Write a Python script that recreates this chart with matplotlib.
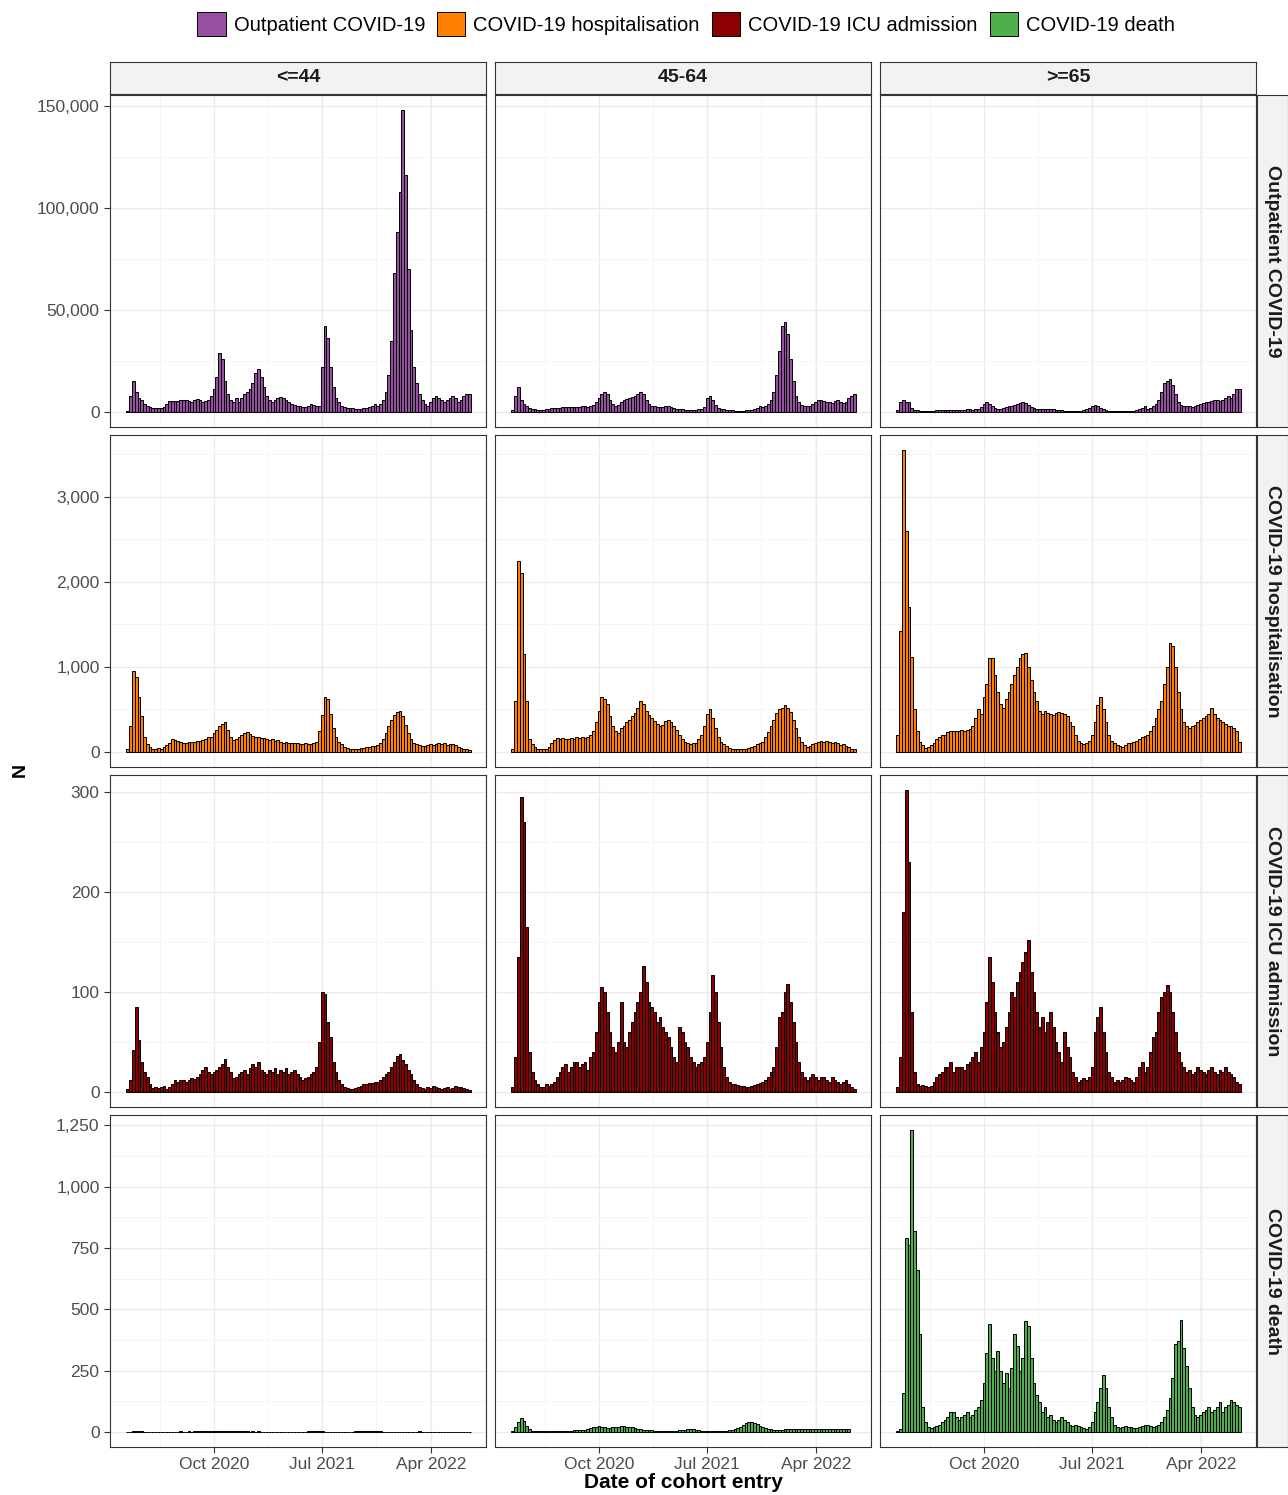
import matplotlib
matplotlib.use("Agg")
import matplotlib.pyplot as plt
import matplotlib.dates as mdates
from matplotlib.patches import Patch
from matplotlib.ticker import FuncFormatter, MultipleLocator, AutoMinorLocator
import numpy as np
import datetime as dt

plt.rcParams['font.family'] = ['Liberation Sans', 'DejaVu Sans']

age_groups = ['<=44', '45-64', '>=65']
outcomes = ['Outpatient COVID-19', 'COVID-19 hospitalisation',
            'COVID-19 ICU admission', 'COVID-19 death']
colors = ['#984EA3', '#FF7F00', '#8B0000', '#4DAF4A']
start_date = dt.date(2020, 2, 27)

# weekly counts; outpatient in thousands
out_44 = [0.5,8,15,10,7,6,4,3,2.5,2, 2,1.8,2,2.5,4,5.5,5.5,5.5,5.5,6,
          6,6,5.5,5,6,6.5,6,5,5.5,6, 8,11,17,29,26,15,9,6,5,7,
          5,7,9,10,11,14,19,21,17,12, 8,6,5,6,7,7.5,7,6,5,4,
          3.5,3,3,2.5,2.5,3,4,3.5,3,3, 22,42,36,22,12,7,5,3,2.5,2,
          2,1.8,1.5,1.5,1.5,2,2,2.5,3,4, 3,4,6,10,18,35,68,88,108,148,
          116,70,40,22,14,9,6,4,3,5, 7,8,7,6,5,6,7,8,7,5, 6,8,9,9]
out_45 = [1,8,12,6,4,3,2,1.5,1.2,1, 1,1,1.2,1.5,2,2,2,2,2.2,2.4,
          2.5,2.3,2.2,2.4,2.6,2.8,2.7,2.5,2.8,3.5, 5,7,9,10,9,6,4,3,3.5,5,
          6,6.5,7,7.5,8,9,10,9,6,4, 3,2.8,2.5,2.5,2.6,2.7,2.8,2.5,2,1.6,
          1.4,1.2,1.1,1,1,1,1,1.2,1.5,2.5, 7,8,6,3.5,2,1.5,1.2,1,0.8,0.7,
          0.6,0.6,0.6,0.6,0.7,0.8,1,1.3,2,3, 2.5,3,4,6,10,18,30,42,44,38,
          26,15,8,5,3.5,3,2.8,3,4,5, 6,6,5.5,5,5,4.5,5.5,6,5,4.5, 5,7,8,9]
out_65 = [1,5,6,5,5,2,1,0.7,0.5,0.5, 0.5,0.5,0.5,0.6,0.7,0.8,0.8,0.8,0.9,1,
          1,0.9,0.9,1,1.1,1.2,1.2,1.1,1.2,1.5, 2.5,4,5,4,3,2,1.5,1.5,2,2.5,
          3,3,3.5,4,4.5,5,4.5,3.5,2.5,1.8, 1.5,1.3,1.2,1.2,1.3,1.3,1.2,1,0.8,0.7,
          0.6,0.5,0.5,0.5,0.5,0.5,0.6,0.8,1.2,2, 3,3.5,3,2,1.2,0.8,0.6,0.5,0.4,0.4,
          0.4,0.4,0.4,0.4,0.5,0.6,0.8,1.2,2,3, 1.5,2,3,4,6,10,14,15,16,13,
          9,5,3.5,3,3,3,2.5,3,3.5,4, 4.5,5,5,5.5,6,6,5.5,6,7,8, 7,9,11,11]

hosp_44 = [30,300,950,880,640,420,180,90,60,40, 40,50,40,60,80,110,150,140,130,120,
           100,110,120,120,120,125,130,140,150,170, 180,220,260,300,330,350,260,180,140,150,
           170,200,220,230,210,190,180,170,160,160, 150,140,150,130,140,120,110,120,100,100,
           100,100,90,90,100,90,90,100,120,250, 430,640,620,450,280,170,120,90,60,50,
           40,40,35,40,45,50,55,60,65,70, 80,100,150,220,300,380,440,470,480,420,
           320,220,150,110,90,80,75,70,80,90, 80,90,100,90,100,80,90,90,80,60, 50,40,30,20]
hosp_45 = [30,600,2250,2100,1150,600,150,90,60,40, 40,40,40,60,100,140,160,150,160,150,
           150,160,150,170,160,170,160,170,200,250, 350,480,650,620,560,420,300,250,220,280,
           300,350,380,420,460,520,600,560,480,440, 400,360,330,300,320,360,380,350,300,260,
           200,150,120,100,90,100,110,150,200,300, 450,500,400,280,180,120,90,70,50,40,
           30,30,30,30,40,50,60,70,90,100, 120,170,230,300,380,460,500,520,550,520,
           470,380,280,180,120,80,60,70,90,110, 120,130,120,130,120,110,120,100,80,90, 70,60,40,30]
hosp_65 = [200,1420,3550,2600,1700,1120,500,250,120,80, 50,60,80,100,150,180,200,200,230,250,
           250,250,250,260,250,260,270,300,400,500, 450,650,800,1100,1110,900,700,560,520,620,
           700,800,900,1000,1100,1150,1160,1000,850,700, 600,480,450,480,460,450,440,460,470,460,
           450,420,350,300,200,130,100,90,100,130, 200,350,550,650,500,350,200,130,100,80,
           70,60,80,100,110,120,130,150,170,190, 200,250,300,400,500,600,800,1000,1280,1250,
           1000,700,500,350,300,280,300,320,350,380, 400,420,450,520,450,400,380,350,330,300,
           300,280,250,120]

icu_44 = [3,12,42,85,52,30,20,15,8,4, 5,4,5,6,3,5,8,12,10,12,
          12,10,12,14,13,15,18,22,25,20, 18,20,22,25,28,33,25,20,14,15,
          18,20,22,18,24,28,25,30,22,20, 18,22,20,24,18,22,20,24,18,20,
          22,18,15,12,14,15,18,20,25,50, 100,98,70,55,30,20,12,8,5,4,
          3,3,4,5,6,8,8,9,9,10, 10,12,15,18,20,25,30,36,38,32,
          28,22,18,12,8,5,4,3,5,4, 6,5,4,3,4,5,3,4,6,5, 5,4,3,2]
icu_45 = [5,35,135,295,270,165,40,20,12,8, 5,5,8,6,8,10,15,20,25,28,
          20,25,30,30,25,28,30,22,35,40, 60,90,105,100,80,60,45,40,50,90,
          50,45,60,70,80,90,100,126,110,90, 85,80,70,75,65,60,55,45,35,30,
          65,60,50,45,35,30,25,28,30,35, 50,80,117,100,70,45,25,15,10,8,
          8,7,6,6,5,5,6,7,8,9, 10,12,15,20,25,45,75,80,100,108,
          90,70,50,30,20,15,12,15,18,15, 12,15,15,12,10,15,12,10,8,10, 12,8,5,3]
icu_65 = [5,35,180,302,230,80,20,8,6,7, 6,5,6,10,15,18,20,25,25,30,
          20,25,25,25,22,28,30,35,40,30, 45,60,90,135,110,80,60,45,50,65,
          80,100,95,110,120,130,140,152,120,100, 80,65,75,60,70,80,65,50,40,30,
          60,45,35,20,15,10,12,14,12,15, 25,60,75,85,60,40,20,15,10,12,
          10,12,15,14,12,10,15,25,30,20, 25,40,55,60,80,95,100,107,100,80,
          60,40,30,25,20,22,18,20,25,22, 20,18,22,25,20,18,22,20,25,20, 18,15,10,8]

death_44 = [0,1,3,4,3,2,1,1,0,0, 0,0,1,0,1,1,1,1,1,2, 1,1,2,1,2,2,3,2,3,4,
            3,3,2,2,3,2,2,3,3,2, 2,3,2,2,1,2,1,2,1,1, 1,1,1,0,1,1,0,1,1,1,
            0,1,1,1,1,2,2,3,3,2, 2,1,1,1,1,0,1,1,1,1, 1,1,2,2,3,3,3,4,3,3,
            2,2,1,1,1,1,1,1,1,1, 1,1,1,1,1,2,1,1,1,1, 1,1,1,1,1,1,1,1,1,1, 1,1,1,1]
death_45 = [2,20,40,55,45,25,10,5,3,2, 2,2,2,2,3,3,4,4,5,5, 5,5,6,6,7,7,8,10,14,18,
            22,25,22,18,14,15,18,20,22,25, 24,22,20,18,14,12,10,8,7,6, 6,5,5,5,4,4,4,5,5,5,
            6,7,8,10,12,10,8,6,5,4, 4,3,3,3,3,3,4,5,6,8, 10,15,20,28,35,40,40,38,32,25,
            20,15,12,10,8,8,8,9,10,10, 10,11,12,11,12,12,10,11,12,13, 12,12,11,12,13,12,12,12,
            12,13,12,12]
death_65 = [2,10,160,790,760,1230,820,660,400,100, 40,20,15,20,25,30,40,50,60,80,
            80,60,50,60,70,80,60,70,90,100, 130,200,320,440,300,250,330,250,200,240,
            180,260,400,350,250,300,450,430,300,200, 150,120,80,100,60,70,50,40,50,60,
            50,40,30,25,30,25,20,15,10,20, 40,80,120,180,230,180,100,60,30,20,
            15,20,25,20,18,15,15,20,25,30, 30,25,20,25,30,40,60,90,140,220,
            360,370,455,340,270,180,100,70,60,70, 80,90,100,80,90,100,120,80,100,110,
            130,120,110,100]

data = [[out_44, out_45, out_65], [hosp_44, hosp_45, hosp_65],
        [icu_44, icu_45, icu_65], [death_44, death_45, death_65]]
scale = [1000, 1, 1, 1]
ymajor = [50000, 1000, 100, 250]

W, H = 1288, 1495
fig = plt.figure(figsize=(W / 100, H / 100), dpi=100)
lefts = [110, 495, 880]
tops = [95, 435, 775, 1115]
pw, ph = 376, 332

xlim = (mdates.date2num(dt.date(2020, 1, 13)), mdates.date2num(dt.date(2022, 8, 18)))
xticks = [dt.date(2020, 10, 1), dt.date(2021, 7, 1), dt.date(2022, 4, 1)]

for r in range(4):
    ymax = max(max(v) for v in data[r]) * scale[r]
    ylim = (-0.05 * ymax, ymax * 1.05)
    for c in range(3):
        ax = fig.add_axes([lefts[c] / W, 1 - (tops[r] + ph) / H, pw / W, ph / H])
        vals = np.array(data[r][c], dtype=float) * scale[r]
        dates = [start_date + dt.timedelta(days=7 * i) for i in range(len(vals))]
        ax.bar(dates, vals, width=7, color=colors[r], edgecolor='black', linewidth=0.7, zorder=3)
        ax.set_xlim(xlim)
        ax.set_ylim(ylim)
        ax.set_xticks([mdates.date2num(d) for d in xticks])
        ax.xaxis.set_minor_locator(AutoMinorLocator(2))
        ax.yaxis.set_major_locator(MultipleLocator(ymajor[r]))
        ax.yaxis.set_minor_locator(AutoMinorLocator(2))
        ax.grid(which='major', color='#ebebeb', linewidth=1.0, zorder=0)
        ax.grid(which='minor', color='#f4f4f4', linewidth=0.6, zorder=0)
        for s in ax.spines.values():
            s.set_color('#333333')
            s.set_linewidth(0.8)
        ax.tick_params(which='minor', length=0)
        ax.tick_params(which='major', length=4, color='#333333', labelsize=12.5, labelcolor='#4d4d4d')
        if r == 3:
            ax.set_xticklabels([d.strftime('%b %Y') for d in xticks])
        else:
            ax.set_xticklabels([])
            ax.tick_params(axis='x', which='major', length=0)
        if c == 0:
            ax.yaxis.set_major_formatter(FuncFormatter(lambda v, p: f'{v:,.0f}'))
        else:
            ax.set_yticklabels([])
            ax.tick_params(axis='y', which='major', length=0)

        if r == 0:
            sax = fig.add_axes([lefts[c] / W, 1 - 94 / H, pw / W, 32 / H])
            sax.set_facecolor('#f2f2f2')
            sax.set_xticks([]); sax.set_yticks([])
            for s in sax.spines.values():
                s.set_color('#333333'); s.set_linewidth(0.8)
            sax.text(0.5, 0.5, age_groups[c], ha='center', va='center',
                     fontsize=14, fontweight='bold', color='#1a1a1a')
        if c == 2:
            rax = fig.add_axes([(lefts[c] + pw + 1) / W, 1 - (tops[r] + ph) / H, 31 / W, ph / H])
            rax.set_facecolor('#f2f2f2')
            rax.set_xticks([]); rax.set_yticks([])
            for s in rax.spines.values():
                s.set_color('#333333'); s.set_linewidth(0.8)
            rax.text(0.5, 0.5, outcomes[r], ha='center', va='center', rotation=-90,
                     fontsize=14, fontweight='bold', color='#1a1a1a')

fig.text(20 / W, 1 - 770 / H, 'N', rotation=90, ha='center', va='center',
         fontsize=14, fontweight='bold')
fig.text(683 / W, 1 - 1483 / H, 'Date of cohort entry', ha='center', va='center',
         fontsize=15, fontweight='bold')

handles = [Patch(facecolor=col, edgecolor='black', linewidth=0.7) for col in colors]
fig.legend(handles, outcomes, loc='center', bbox_to_anchor=(686 / W, 1 - 24 / H),
           ncol=4, frameon=False, fontsize=14.5, handlelength=1.4, handleheight=1.4,
           handletextpad=0.4, columnspacing=0.6)

fig.savefig('out.png', dpi=100)
